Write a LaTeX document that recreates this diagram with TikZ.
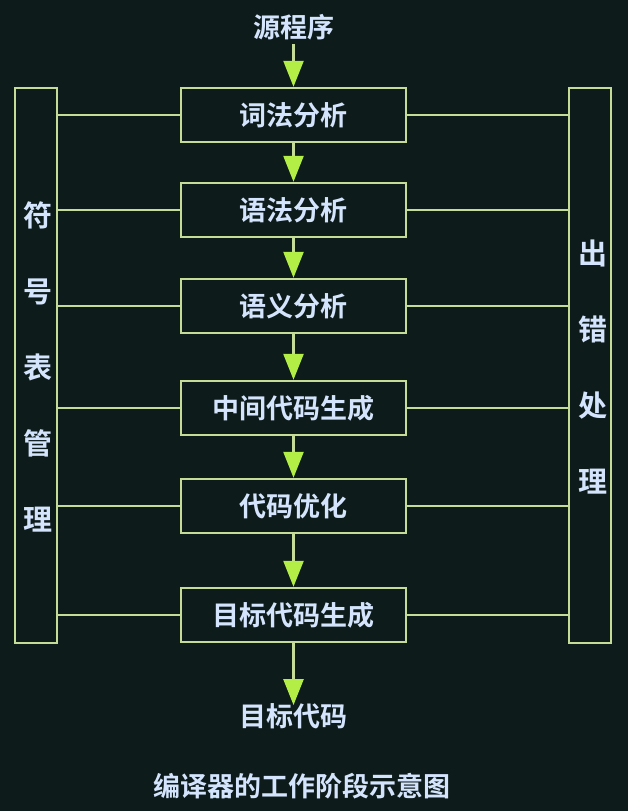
\documentclass[tikz,border=0pt]{standalone}
\usepackage{fontspec}
\newfontfamily\cjk{Noto Sans CJK SC}[BoldFont={Noto Sans CJK SC Bold}]
\usetikzlibrary{arrows.meta}
\definecolor{bgdark}{RGB}{13,27,27}
\definecolor{frame}{RGB}{196,220,152}
\definecolor{headlime}{RGB}{178,238,70}
\definecolor{txtblue}{RGB}{212,228,252}
\begin{document}
\begin{tikzpicture}[x=1pt,y=-1pt,
  stage/.style={draw=frame,line width=2.4pt,minimum width=225pt,minimum height=54pt,
    inner sep=0pt,text=txtblue,font=\cjk\bfseries\fontsize{27}{30}\selectfont},
  sidebar/.style={draw=frame,line width=2.4pt,minimum width=42pt,minimum height=555pt,inner sep=0pt},
  sidetext/.style={text=txtblue,align=center,inner sep=0pt,font=\cjk\bfseries\fontsize{29}{76}\selectfont},
  label/.style={text=txtblue,inner sep=1pt,font=\cjk\bfseries\fontsize{27}{30}\selectfont},
  link/.style={draw=frame,line width=2.4pt},
  flow/.style={draw=frame,line width=2.4pt,-{Triangle[width=20pt,length=26pt,color=headlime]}}]
\fill[bgdark] (0,0) rectangle (628,811);
\useasboundingbox (0,0) rectangle (628,811);

% compiler phases
\node[stage] (b1) at (293.5,115) {词法分析};
\node[stage] (b2) at (293.5,210) {语法分析};
\node[stage] (b3) at (293.5,306) {语义分析};
\node[stage] (b4) at (293.5,408) {中间代码生成};
\node[stage] (b5) at (293.5,506) {代码优化};
\node[stage] (b6) at (293.5,615) {目标代码生成};

% side columns
\node[sidebar] (L) at (36,365.5) {};
\node[sidebar] (R) at (590,365.5) {};
\node[sidetext] (Lt) at (38,367) {符\\号\\表\\管\\理};
\node[sidetext] (Rt) at (593,367) {出\\错\\处\\理};

% input / output
\node[label] (src) at (293.5,27) {源程序};
\node[label] (dst) at (293.5,716) {目标代码};
\node[label] (cap) at (302,786) {编译器的工作阶段示意图};

% main flow
\draw[flow] (src.south) ++(0,3) -- (b1.north);
\draw[flow] (b1) -- (b2);
\draw[flow] (b2) -- (b3);
\draw[flow] (b3) -- (b4);
\draw[flow] (b4) -- (b5);
\draw[flow] (b5) -- (b6);
\draw[flow] (b6.south) -- ([yshift=-3pt]dst.north);

% links to symbol table and error handling
\foreach \b in {b1,b2,b3,b4,b5,b6}{
  \draw[link] (\b.west) -- (\b.west -| L.east);
  \draw[link] (\b.east) -- (\b.east -| R.west);
}
\end{tikzpicture}
\end{document}
